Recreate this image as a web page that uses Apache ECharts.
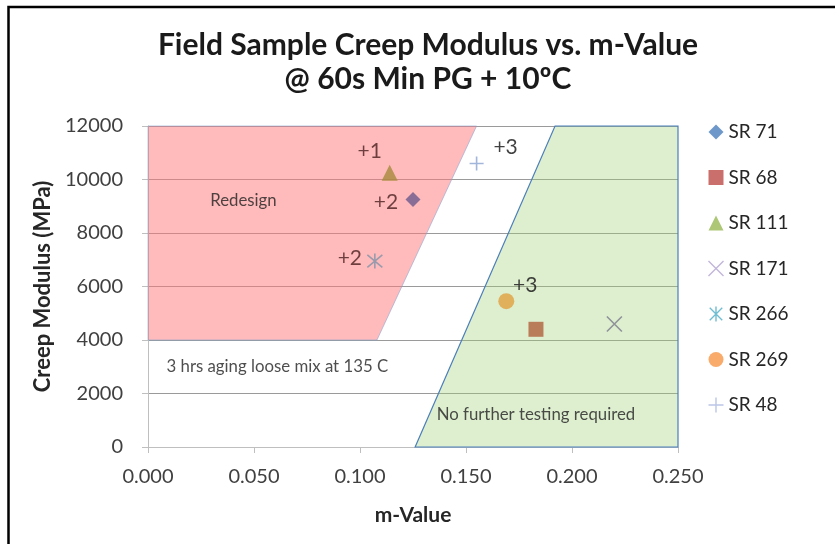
<!DOCTYPE html>
<html>
<head>
<meta charset="utf-8">
<script src="https://cdn.jsdelivr.net/npm/echarts@6/dist/echarts.min.js"></script>
<style>
  html, body { margin: 0; padding: 0; background: #fff; }
  #chart { width: 835px; height: 544px; }
</style>
</head>
<body>
<div id="chart"></div>
<script>
// Sample data: m-value and creep modulus for each field sample
const sampleNames = ['SR 71', 'SR 68', 'SR 111', 'SR 171', 'SR 266', 'SR 269', 'SR 48'];
const mValues = [0.125, 0.183, 0.114, 0.220, 0.107, 0.169, 0.155];
const creepModulus = [9250, 4400, 10250, 4600, 6950, 5450, 10600];
const sampleNotes = ['+2', '', '+1', '', '+2', '+3', '+3'];

// Decision zones (m-value, creep modulus)
const redesignZone = [[0, 4000], [0, 12000], [0.155, 12000], [0.108, 4000]];
const passZone = [[0.126, 0], [0.192, 12000], [0.25, 12000], [0.25, 0]];

// Zone captions
const zoneNotes = [
  { name: 'Redesign', value: [0.045, 9200] },
  { name: '3 hrs aging loose mix at 135 C', value: [0.061, 3000] },
  { name: 'No further testing required', value: [0.183, 1200] }
];

// Axis settings
const xTicks = { min: 0, max: 0.25, interval: 0.05 };
const yTicks = { min: 0, max: 12000, interval: 2000 };

const FONT = 'Lato';

// Marker look in the plot and in the legend
const markerStyle = {
  'SR 71':  { symbol: 'diamond', size: 15, color: '#6b5a8e', legend: '#4a7ebb' },
  'SR 68':  { symbol: 'rect', size: 15, color: '#b0603c', legend: '#be4b48' },
  'SR 111': { symbol: 'triangle', size: 16, color: '#a88a3c', legend: '#98b954' },
  'SR 171': { symbol: 'path://M0,0L10,10M10,0L0,10', size: 15, stroke: '#7c7c8c', legend: '#b3a2cf' },
  'SR 266': { symbol: 'path://M0,0L10,10M10,0L0,10M5,-1L5,11', size: 15, stroke: '#7f94aa', legend: '#4bacc6' },
  'SR 269': { symbol: 'circle', size: 16, color: '#e0a040', legend: '#f79646' },
  'SR 48':  { symbol: 'path://M5,0L5,10M0,5L10,5', size: 14, stroke: '#8ba2d2', legend: '#a9b8e0' }
};
const noteOffset = { 'SR 71': [-27, 3], 'SR 111': [-20, -22], 'SR 266': [-25, -3], 'SR 269': [19, -16], 'SR 48': [29, -16] };
const noteColor = { '+1': '#4a1f1f', '+2': '#4a1f1f', '+3': '#111' };

function zoneSeries(points, fill, stroke, lineWidth) {
  return {
    type: 'custom',
    silent: true,
    z: 1,
    data: [[0, 0]],
    renderItem: function (params, api) {
      return {
        type: 'polygon',
        shape: { points: points.map(function (p) { return api.coord(p); }) },
        style: { fill: fill, stroke: stroke, lineWidth: lineWidth }
      };
    }
  };
}

const series = [
  zoneSeries(redesignZone, 'rgba(255,120,120,0.5)', 'rgba(130,160,210,0.55)', 1),
  zoneSeries(passZone, 'rgba(160,210,120,0.35)', '#4a7ebb', 1.2),
  {
    type: 'scatter',
    silent: true,
    z: 2,
    symbolSize: 1,
    itemStyle: { color: 'transparent' },
    data: zoneNotes,
    label: {
      show: true, position: 'inside', formatter: '{b}',
      fontFamily: FONT, fontSize: 16.8, color: '#222'
    }
  }
];

sampleNames.forEach(function (name, i) {
  const st = markerStyle[name];
  const note = sampleNotes[i];
  const itemStyle = st.stroke
    ? { color: 'none', borderColor: st.stroke, borderWidth: 1.6 }
    : { color: st.color };
  series.push({
    name: name,
    type: 'scatter',
    z: 3,
    symbol: st.symbol,
    symbolSize: st.size,
    itemStyle: itemStyle,
    data: [[mValues[i], creepModulus[i]]],
    label: {
      show: note !== '',
      position: 'inside',
      offset: noteOffset[name] || [0, 0],
      formatter: note,
      fontFamily: FONT,
      fontSize: 21,
      color: noteColor[note] || '#111'
    }
  });
});

const legendData = sampleNames.map(function (name) {
  const st = markerStyle[name];
  return {
    name: name,
    icon: st.symbol,
    itemStyle: st.stroke
      ? { color: 'none', borderColor: st.legend, borderWidth: 1.4 }
      : { color: st.legend, borderWidth: 0 }
  };
});

const chart = echarts.init(document.getElementById('chart'));
chart.setOption({
  animation: false,
  backgroundColor: '#fff',
  title: {
    text: 'Field Sample Creep Modulus vs. m-Value\n@ 60s Min PG + 10ºC',
    left: 423,
    textAlign: 'center',
    top: 23,
    textStyle: { fontFamily: FONT, fontWeight: 'bold', fontSize: 30, lineHeight: 34, color: '#1a1a1a' }
  },
  grid: { left: 148, right: 157, top: 126, bottom: 97 },
  legend: {
    orient: 'vertical',
    left: 701,
    top: 117,
    itemWidth: 15,
    itemHeight: 15,
    itemGap: 25.5,
    data: legendData,
    textStyle: { fontFamily: FONT, fontSize: 19, lineHeight: 20, color: '#262626' }
  },
  xAxis: {
    type: 'value',
    min: xTicks.min, max: xTicks.max, interval: xTicks.interval,
    name: 'm-Value',
    nameLocation: 'middle',
    nameGap: 58,
    nameTextStyle: { fontFamily: FONT, fontWeight: 'bold', fontSize: 21, color: '#262626' },
    axisLine: { show: true, lineStyle: { color: '#bfbfbf', width: 1 } },
    axisTick: { show: true, length: 6, lineStyle: { color: '#bfbfbf' } },
    splitLine: { show: false },
    axisLabel: {
      margin: 20, fontFamily: FONT, fontSize: 20, color: '#404040',
      formatter: function (v) { return v.toFixed(3); }
    }
  },
  yAxis: {
    type: 'value',
    min: yTicks.min, max: yTicks.max, interval: yTicks.interval,
    name: 'Creep Modulus (MPa)',
    nameLocation: 'middle',
    nameGap: 86,
    nameTextStyle: { fontFamily: FONT, fontWeight: 'bold', fontSize: 22, color: '#262626' },
    axisLine: { show: true, lineStyle: { color: '#bfbfbf', width: 1 } },
    axisTick: { show: true, length: 6, lineStyle: { color: '#bfbfbf' } },
    splitLine: { show: true, lineStyle: { color: '#9a9a9a', width: 1 } },
    axisLabel: {
      margin: 25, fontFamily: FONT, fontSize: 20, color: '#404040',
      formatter: function (v) { return String(v); }
    }
  },
  graphic: [{
    type: 'polyline',
    silent: true,
    shape: { points: [[8.5, 544], [8.5, 7], [835, 7]] },
    style: { stroke: '#000', lineWidth: 2.5, fill: null }
  }],
  series: series
});
</script>
</body>
</html>
